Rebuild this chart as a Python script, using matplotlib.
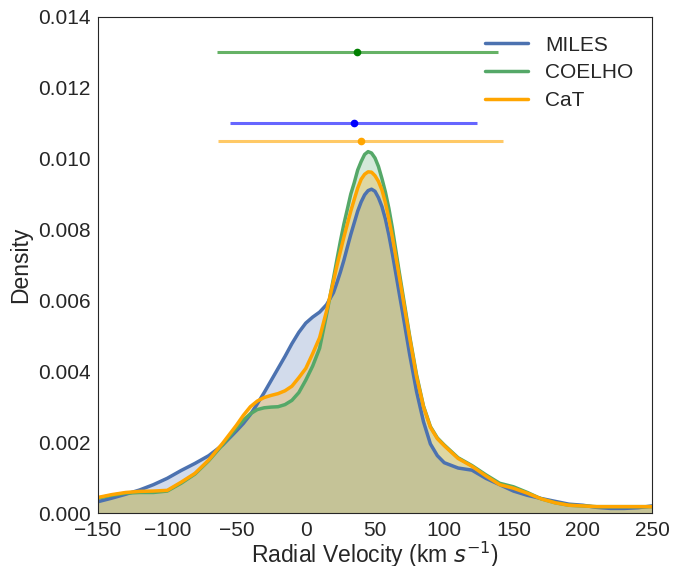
import numpy as np
import matplotlib
matplotlib.use("Agg")
import matplotlib.pyplot as plt
import seaborn as sns

sns.set_style("white")
plt.rcParams['font.family'] = ['Liberation Sans', 'DejaVu Sans']

# velocity grid (km/s) and KDE densities (x1e-3) for each library
vel = [-150, -140, -130, -120, -110, -100, -90, -80, -70, -60, -50,
       -45, -40, -35, -30, -25, -20, -15, -10, -5, 0, 5, 10, 15, 20,
       22.5, 25, 27.5, 30, 32.5, 35, 37.5, 40, 42.5, 45, 47.5, 50,
       52.5, 55, 57.5, 60, 62.5, 65, 67.5, 70, 75, 80, 85, 90, 95, 100,
       110, 120, 130, 140, 150, 160, 170, 180, 190, 200, 210, 220, 230, 240, 250]

miles = [0.32, 0.42, 0.53, 0.65, 0.80, 0.98, 1.20, 1.40, 1.62, 1.92, 2.32,
         2.53, 2.78, 3.08, 3.40, 3.74, 4.08, 4.42, 4.78, 5.10, 5.36, 5.53, 5.67, 5.88, 6.22,
         6.50, 6.80, 7.13, 7.50, 7.86, 8.19, 8.52, 8.78, 8.98, 9.10, 9.14, 9.08,
         8.90, 8.65, 8.30, 7.85, 7.33, 6.77, 6.20, 5.64, 4.48, 3.43, 2.58, 1.95, 1.62, 1.42,
         1.27, 1.21, 0.98, 0.80, 0.62, 0.50, 0.41, 0.33, 0.25, 0.22, 0.16, 0.13, 0.13, 0.15, 0.20]

coelho = [0.42, 0.50, 0.56, 0.58, 0.58, 0.62, 0.84, 1.10, 1.48, 1.93, 2.40,
          2.62, 2.80, 2.92, 2.97, 2.99, 3.00, 3.06, 3.18, 3.40, 3.75, 4.15, 4.65, 5.60, 6.62,
          7.15, 7.67, 8.15, 8.57, 9.00, 9.32, 9.68, 9.92, 10.12, 10.20, 10.16, 10.02,
          9.78, 9.44, 9.06, 8.60, 8.05, 7.42, 6.80, 6.20, 5.00, 3.90, 3.02, 2.44, 2.12, 1.92,
          1.56, 1.34, 1.08, 0.84, 0.74, 0.58, 0.40, 0.29, 0.22, 0.20, 0.18, 0.18, 0.18, 0.18, 0.18]

cat = [0.44, 0.52, 0.58, 0.61, 0.62, 0.64, 0.87, 1.12, 1.50, 1.97, 2.48,
       2.76, 3.00, 3.16, 3.26, 3.32, 3.37, 3.45, 3.58, 3.82, 4.08, 4.50, 4.95, 5.70, 6.54,
       6.98, 7.38, 7.78, 8.15, 8.52, 8.85, 9.17, 9.42, 9.56, 9.63, 9.62, 9.52,
       9.36, 9.12, 8.76, 8.30, 7.80, 7.25, 6.68, 6.10, 4.95, 3.85, 3.00, 2.42, 2.10, 1.90,
       1.54, 1.32, 1.05, 0.80, 0.70, 0.56, 0.40, 0.29, 0.22, 0.20, 0.18, 0.18, 0.18, 0.18, 0.18]

# mean velocity and spread for each library
means = {'MILES': 34.6, 'COELHO': 37.2, 'CaT': 39.7}
spreads = {'MILES': 89.4, 'COELHO': 101.6, 'CaT': 102.9}
bar_y = {'MILES': 0.0110, 'COELHO': 0.0130, 'CaT': 0.0105}

vel = np.array(vel)
series = [('MILES', np.array(miles) * 1e-3, '#4C72B0'),
          ('COELHO', np.array(coelho) * 1e-3, '#55A868'),
          ('CaT', np.array(cat) * 1e-3, 'orange')]
bar_colors = {'MILES': 'blue', 'COELHO': 'green', 'CaT': 'orange'}

fig = plt.figure(figsize=(6.84, 5.66), dpi=100)
ax = fig.add_axes([0.1433, 0.0936, 0.8099, 0.8764])

for name, dens, col in series:
    ax.fill_between(vel, dens, color=col, alpha=0.25, linewidth=0)
    ax.plot(vel, dens, color=col, lw=2.5, label=name, solid_joinstyle='round')

for name in ['COELHO', 'MILES', 'CaT']:
    c = matplotlib.colors.to_rgba(bar_colors[name])
    ax.errorbar(means[name], bar_y[name], xerr=spreads[name], fmt='o',
                color=c, ecolor=(c[0], c[1], c[2], 0.6), elinewidth=2.2,
                markersize=4.5, capsize=0)

ax.set_xlim(-150, 250)
ax.set_ylim(0, 0.014)
ax.set_yticks(np.arange(0, 0.0141, 0.002))
ax.set_xlabel(r'Radial Velocity (km $s^{-1}$)', fontsize=16.5, labelpad=0)
ax.set_ylabel('Density', fontsize=16.5, labelpad=4)
ax.tick_params(labelsize=15, pad=2)
ax.legend(loc='upper right', frameon=False, fontsize=15, handlelength=2.07,
          labelspacing=0.42)

for s in ax.spines.values():
    s.set_color('#262626')

fig.savefig('out.png', dpi=100)
